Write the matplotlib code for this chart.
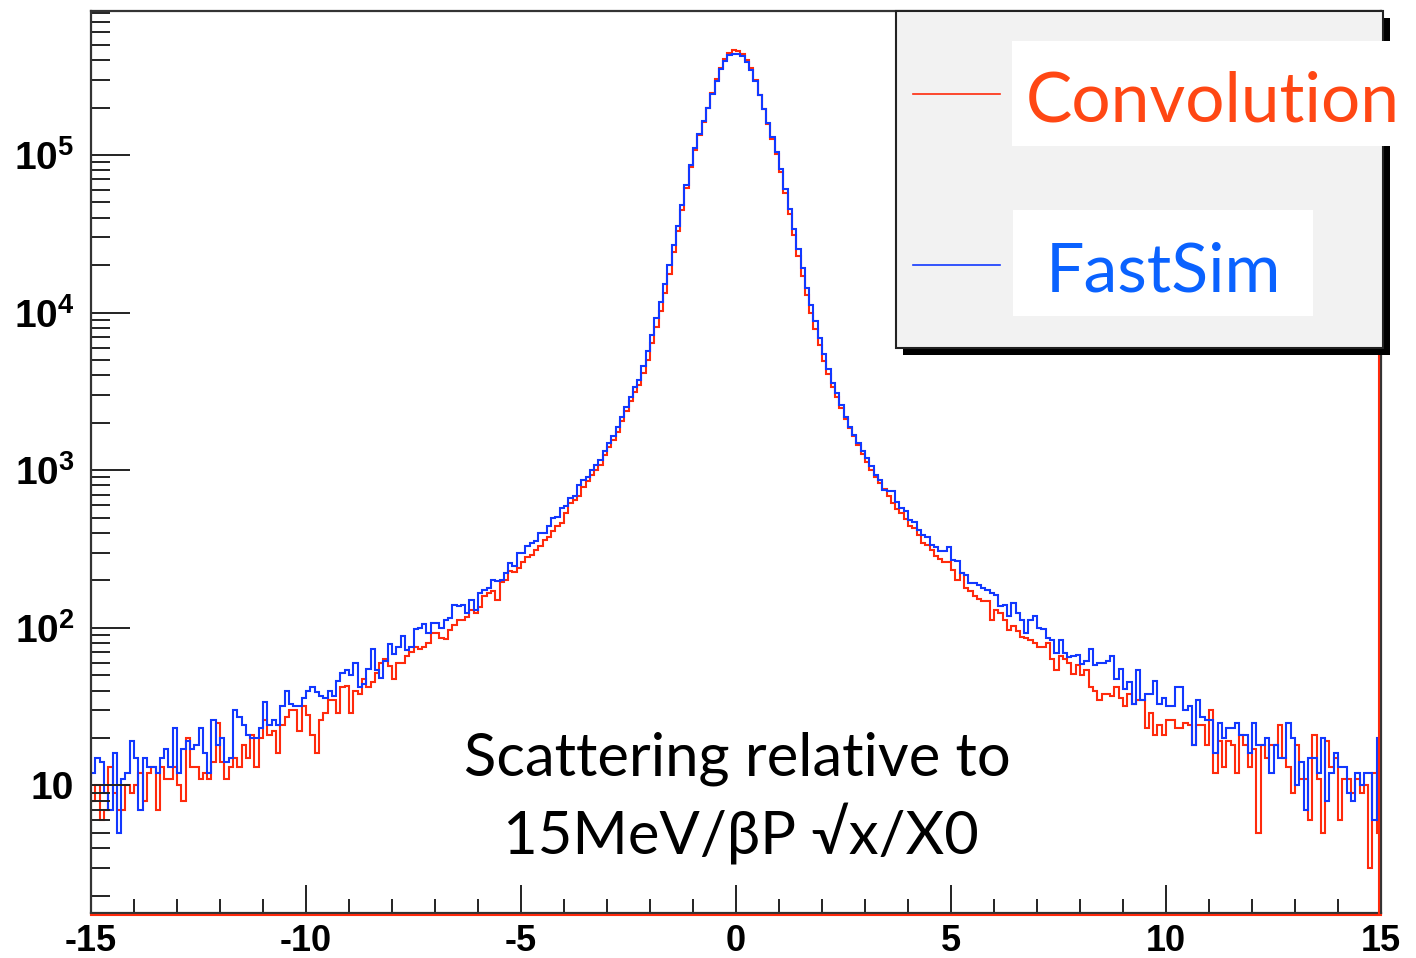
import matplotlib
matplotlib.use("Agg")
import matplotlib.pyplot as plt
import numpy as np
from matplotlib.lines import Line2D
from matplotlib.patches import Rectangle
from matplotlib.ticker import FixedLocator, FuncFormatter, NullFormatter

# --- data: 300 bins of 0.1 from -15 to 15 ---
x_lo, x_hi, n_bins = -15.0, 15.0, 300

fastsim = [
    12, 15, 14, 9, 7, 16, 5, 11, 12, 19,
    15, 7, 15, 13, 13, 12, 15, 17, 13, 23,
    12, 17, 19, 17, 18, 23, 16, 12, 26, 18,
    20, 14, 15, 30, 27, 24, 21, 20, 20, 23,
    34, 24, 26, 24, 32, 40, 33, 32, 32, 36,
    40, 42, 39, 37, 36, 40, 37, 46, 52, 54,
    50, 60, 42, 44, 55, 73, 54, 48, 62, 79,
    68, 76, 89, 72, 75, 98, 100, 105, 93, 107,
    107, 100, 112, 115, 140, 137, 140, 125, 150, 130,
    166, 174, 178, 202, 198, 202, 223, 258, 245, 298,
    298, 331, 346, 355, 399, 399, 440, 500, 505, 575,
    590, 668, 690, 807, 871, 912, 1000, 1082, 1164, 1315,
    1486, 1637, 1893, 2190, 2535, 2932, 3390, 3720, 4580, 5690,
    7240, 9230, 11750, 15100, 20100, 26800, 35700, 47900, 64300, 86300,
    110000, 135000, 164000, 200000, 244000, 297000, 350000, 395000, 430000, 440000,
    440000, 428000, 392000, 346000, 293000, 240000, 196000, 160000, 130000, 105000,
    82000, 61000, 45500, 34000, 25500, 19100, 14300, 11200, 8800, 6900,
    5450, 4400, 3600, 3080, 2600, 2190, 1890, 1675, 1486, 1315,
    1195, 1057, 934, 871, 752, 733, 733, 631, 575, 550,
    484, 470, 419, 389, 375, 337, 325, 305, 305, 325,
    271, 265, 222, 216, 192, 192, 188, 179, 175, 166,
    162, 137, 140, 118, 143, 125, 112, 93, 112, 118,
    99, 98, 86, 84, 69, 84, 69, 65, 66, 67,
    59, 62, 73, 58, 60, 60, 62, 66, 47, 55,
    41, 45, 33, 54, 35, 38, 38, 46, 33, 36,
    32, 32, 42, 42, 30, 32, 18, 35, 27, 26,
    26, 16, 25, 20, 23, 23, 25, 21, 21, 16,
    25, 18, 18, 20, 12, 18, 15, 15, 25, 20,
    10, 14, 7, 15, 15, 12, 20, 8, 12, 16,
    13, 13, 9, 8, 12, 10, 12, 12, 6, 20,
]

convolution = [
    8, 10, 6, 7, 13, 9, 7, 7, 10, 9,
    10, 12, 8, 12, 13, 7, 13, 11, 11, 13,
    10, 8, 20, 13, 13, 11, 12, 11, 14, 25,
    14, 11, 13, 15, 13, 18, 15, 21, 13, 20,
    26, 21, 22, 16, 24, 27, 30, 30, 22, 32,
    28, 21, 16, 26, 29, 35, 35, 29, 42, 43,
    29, 40, 38, 47, 42, 45, 52, 60, 63, 57,
    47, 60, 60, 66, 70, 76, 73, 75, 80, 93,
    93, 86, 85, 97, 104, 112, 112, 117, 130, 125,
    135, 158, 166, 170, 150, 195, 200, 229, 225, 240,
    263, 282, 290, 313, 330, 363, 376, 410, 440, 462,
    535, 617, 650, 690, 787, 850, 930, 1000, 1080, 1250,
    1400, 1560, 1760, 2040, 2360, 2730, 3150, 3460, 4120, 5000,
    6370, 8120, 10300, 13300, 17700, 24100, 32800, 45000, 61700, 83700,
    108000, 133000, 163000, 200000, 246000, 302000, 358000, 405000, 442000, 462000,
    460000, 440000, 402000, 354000, 298000, 242000, 196000, 158000, 127000, 101000,
    78000, 57000, 42000, 31000, 23000, 17100, 12900, 10000, 7900, 6200,
    4950, 4050, 3350, 2900, 2480, 2120, 1850, 1640, 1440, 1260,
    1120, 1000, 900, 830, 760, 690, 620, 570, 535, 490,
    440, 430, 390, 345, 335, 310, 284, 275, 263, 263,
    233, 202, 222, 179, 170, 158, 152, 147, 147, 112,
    130, 125, 112, 97, 102, 95, 88, 86, 84, 80,
    76, 76, 80, 63, 54, 66, 63, 60, 51, 58,
    50, 54, 42, 40, 35, 38, 38, 37, 42, 36,
    32, 38, 33, 35, 35, 23, 29, 21, 24, 21,
    26, 26, 23, 23, 25, 24, 18, 24, 24, 18,
    30, 12, 19, 13, 19, 18, 12, 21, 18, 13,
    17, 5, 18, 15, 18, 18, 24, 15, 13, 9,
    18, 11, 11, 6, 21, 11, 5, 19, 13, 15,
    6, 11, 11, 9, 11, 9, 10, 3, 12, 5,
]

series_labels = ["Convolution", "FastSim"]
x_major = [-15, -10, -5, 0, 5, 10, 15]
y_lim = (1.55, 8.2e5)
note_lines = ["Scattering relative to", "15MeV/\u03b2P \u221ax/X0"]

RED = "#ff2a0c"
BLUE = "#1238ff"
W, H = 1416, 958


def fx(px):
    return px / W


def fy(py):
    return 1 - py / H


plt.rcParams["mathtext.fontset"] = "custom"
plt.rcParams["mathtext.rm"] = "Liberation Sans"
plt.rcParams["mathtext.bf"] = "Liberation Sans:bold"

fig = plt.figure(figsize=(W / 100, H / 100), dpi=100)
ax = fig.add_axes([fx(91), fy(913), fx(1381) - fx(91), fy(11) - fy(913)])

edges = np.linspace(x_lo, x_hi, n_bins + 1)
ax.stairs(convolution, edges, color=RED, lw=1.5, baseline=None)
ax.stairs(fastsim, edges, color=BLUE, lw=1.5, baseline=None)

ax.set_yscale("log")
ax.set_xlim(x_lo, x_hi)
ax.set_ylim(*y_lim)

ax.xaxis.set_major_locator(FixedLocator(x_major))
ax.xaxis.set_minor_locator(FixedLocator(range(-15, 16)))
ax.xaxis.set_major_formatter(FuncFormatter(lambda v, _: f"{int(v)}"))

y_major = [10, 100, 1e3, 1e4, 1e5]
y_minor = [m * 10 ** k for k in range(0, 6) for m in range(2, 10)]
ax.yaxis.set_major_locator(FixedLocator(y_major))
ax.yaxis.set_minor_locator(FixedLocator(y_minor))
ax.yaxis.set_minor_formatter(NullFormatter())


def ylab(v, _):
    e = int(round(np.log10(v)))
    if e == 1:
        return "10"
    return r"$\mathbf{10^{%d}}$" % e


ax.yaxis.set_major_formatter(FuncFormatter(ylab))

ax.tick_params(axis="both", which="both", direction="in", top=False, right=False,
               width=1.4, color="#222222")
ax.tick_params(axis="y", which="major", length=28, pad=12)
ax.tick_params(axis="y", which="minor", length=14)
ax.tick_params(axis="x", which="major", length=20, pad=8)
ax.tick_params(axis="x", which="minor", length=10)
for lab in ax.get_yticklabels():
    lab.set_fontfamily("Liberation Sans")
    lab.set_fontweight("bold")
    lab.set_fontsize(28)
for lab in ax.get_xticklabels():
    lab.set_fontfamily("Liberation Sans")
    lab.set_fontweight("bold")
    lab.set_fontsize(26)

for side in ["left", "right", "top", "bottom"]:
    ax.spines[side].set_color("#333333")
    ax.spines[side].set_linewidth(1.6)

# red edges drawn by the histogram frame
fig.add_artist(Line2D([fx(91), fx(1381)], [fy(915), fy(915)], color=RED, lw=1.5))
fig.add_artist(Line2D([fx(1379), fx(1379)], [fy(913), fy(20)], color=RED, lw=1.5))

# text in the plot
fig.text(fx(737), fy(775), note_lines[0], ha="center", va="baseline",
         fontsize=43, family=["Lato", "DejaVu Sans"], color="black")
fig.text(fx(741), fy(853), note_lines[1], ha="center", va="baseline",
         fontsize=43, family=["Lato", "DejaVu Sans"], color="black")

# legend box with shadow
fig.add_artist(Rectangle((fx(903), fy(355)), fx(1390) - fx(903), fy(18) - fy(355),
                         transform=fig.transFigure, facecolor="black", edgecolor="none", zorder=5))
fig.add_artist(Rectangle((fx(896), fy(348)), fx(1383) - fx(896), fy(11) - fy(348),
                         transform=fig.transFigure, facecolor="#f2f2f2", edgecolor="#222222",
                         lw=1.5, zorder=6))
fig.add_artist(Rectangle((fx(1012), fy(146)), fx(1416) - fx(1012), fy(41) - fy(146),
                         transform=fig.transFigure, facecolor="white", edgecolor="none", zorder=7))
fig.add_artist(Rectangle((fx(1013), fy(316)), fx(1313) - fx(1013), fy(210) - fy(316),
                         transform=fig.transFigure, facecolor="white", edgecolor="none", zorder=7))
fig.add_artist(Line2D([fx(913), fx(1000)], [fy(94), fy(94)], color=RED, lw=1.2, zorder=8))
fig.add_artist(Line2D([fx(913), fx(1000)], [fy(265), fy(265)], color=BLUE, lw=1.2, zorder=8))
fig.text(fx(1026), fy(121), series_labels[0], ha="left", va="baseline", fontsize=50,
         family=["Lato", "DejaVu Sans"], color="#ff4714", zorder=9)
fig.text(fx(1046), fy(291), series_labels[1], ha="left", va="baseline", fontsize=49,
         family=["Lato", "DejaVu Sans"], color="#0a62ff", zorder=9)

fig.savefig("out.png", dpi=100)
